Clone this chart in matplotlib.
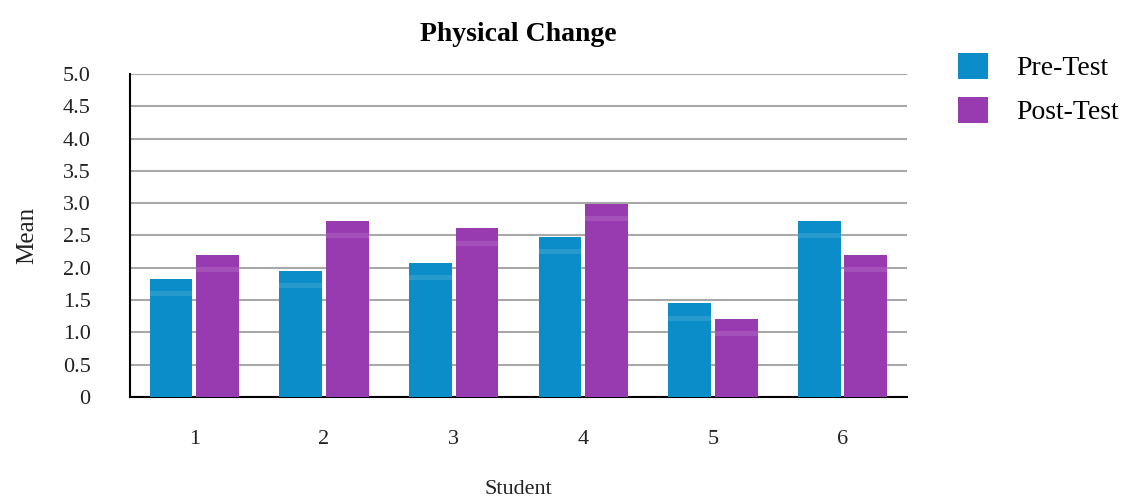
import numpy as np
import matplotlib.pyplot as plt

# Mean scores per student
students = ['1', '2', '3', '4', '5', '6']
pre_test = [1.83, 1.95, 2.08, 2.48, 1.45, 2.73]
post_test = [2.20, 2.73, 2.61, 2.99, 1.21, 2.20]
y_ticks = [0, 0.5, 1.0, 1.5, 2.0, 2.5, 3.0, 3.5, 4.0, 4.5, 5.0]


def plot_physical_change(save_path='out.png'):
    plt.rcParams['font.family'] = ['Liberation Serif', 'DejaVu Serif']
    fig = plt.figure(figsize=(11.47, 5.0), dpi=100)
    ax = fig.add_axes([0.113, 0.206, 0.678, 0.646])

    x = np.arange(len(students))
    width = 0.33
    ax.bar(x - 0.18, pre_test, width, color='#0a8dc8', label='Pre-Test', zorder=3)
    ax.bar(x + 0.18, post_test, width, color='#983bb0', label='Post-Test', zorder=3)

    # faint glossy band just under each bar top
    for vals, off in [(pre_test, -0.18), (post_test, 0.18)]:
        tops = np.array(vals)
        ax.bar(x + off, 0.08, width, bottom=tops - 0.27, color='white',
               alpha=0.12, linewidth=0, zorder=4)

    # Grid and axes
    ax.set_ylim(0, 5.0)
    ax.set_xlim(-0.5, len(students) - 0.5)
    ax.set_yticks(y_ticks)
    ax.set_yticklabels(['0' if v == 0 else f'{v:.1f}' for v in y_ticks])
    ax.set_xticks(x)
    ax.set_xticklabels(students)
    ax.yaxis.grid(True, color='#a8a8a8', linewidth=1.5, zorder=0)
    ax.tick_params(axis='both', length=0, labelsize=16, colors='#222222')
    ax.tick_params(axis='y', pad=28)
    ax.tick_params(axis='x', pad=24)
    for side in ['top', 'right']:
        ax.spines[side].set_visible(False)
    ax.spines['left'].set_linewidth(1.5)
    ax.spines['bottom'].set_linewidth(1.5)

    # Labels and title
    ax.set_title('Physical Change', fontsize=20, fontweight='bold', pad=24)
    ax.set_xlabel('Student', fontsize=16, labelpad=22, color='#222222')
    ax.set_ylabel('Mean', fontsize=18, labelpad=18, color='#222222')

    fig.legend(loc='upper left', bbox_to_anchor=(0.813, 0.945), frameon=False,
               fontsize=20, handlelength=1.1, handleheight=1.1,
               handletextpad=1.0, labelspacing=0.55)

    fig.savefig(save_path, dpi=100)
    plt.close(fig)


def main():
    plot_physical_change()


if __name__ == "__main__":
    main()
